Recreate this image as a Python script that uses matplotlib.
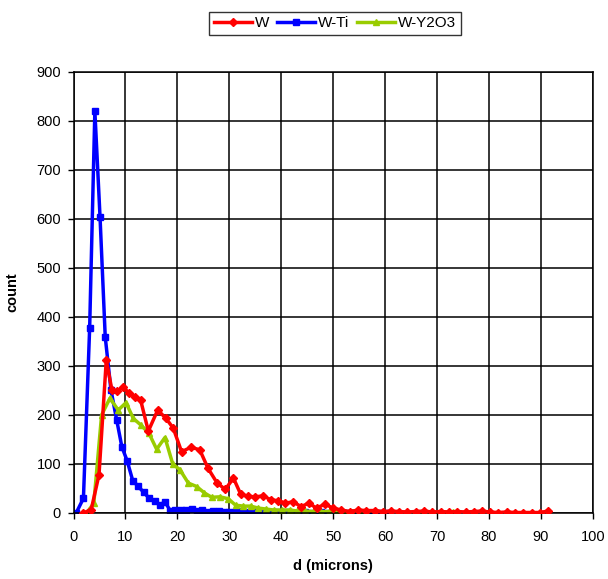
import matplotlib
matplotlib.use("Agg")
import matplotlib.pyplot as plt

plt.rcParams['font.family'] = ['Liberation Sans', 'DejaVu Sans']

# W-Ti (blue)
wti_x = [0.5, 1.9, 3.1, 4.1, 5.1, 6.1, 7.2, 8.3, 9.3, 10.3, 11.4, 12.4, 13.5, 14.5, 15.6, 16.6, 17.6, 18.6,
         19.6, 20.7, 21.7, 22.8, 23.8, 24.8, 25.9, 26.9, 28.0, 29.0, 30.0, 31.1, 32.1, 33.2, 34.2, 35.2,
         36.3, 37.3, 38.4, 39.4, 40.4, 41.5, 42.5, 43.6, 44.6, 45.6, 46.7, 47.7, 48.8, 49.8, 50.8, 51.9,
         52.9, 54.0, 55.0, 56.0, 57.1, 58.1, 59.2, 60.2]
wti_y = [0, 30, 378, 820, 603, 359, 251, 190, 135, 107, 66, 55, 42, 31, 24, 16, 23, 5,
         7, 6, 7, 8, 4, 6, 3, 4, 5, 3, 3, 2, 4, 3, 3, 2,
         2, 3, 2, 2, 2, 2, 1, 2, 2, 1, 1, 2, 1, 1, 1, 1,
         1, 1, 0, 1, 0, 0, 0, 0]

# W (red)
w_x = [1.9, 3.4, 4.9, 6.3, 7.4, 8.4, 9.6, 10.7, 11.8, 12.9, 14.4, 16.2, 17.8, 19.2, 20.8, 22.6, 24.3,
       25.9, 27.6, 29.2, 30.8, 32.2, 33.6, 35.0, 36.5, 38.0, 39.4, 40.8, 42.3, 43.8, 45.3, 46.8, 48.4,
       50.0, 51.6, 53.2, 54.8, 56.4, 58.0, 59.6, 61.1, 62.7, 64.3, 65.9, 67.5, 69.1, 70.7, 72.3, 73.9,
       75.5, 77.1, 78.6, 80.2, 81.8, 83.4, 85.0, 86.6, 88.2, 89.8, 91.4]
w_y = [0, 7, 78, 312, 250, 248, 257, 244, 237, 231, 167, 210, 193, 173, 125, 134, 129,
       91, 62, 48, 71, 38, 34, 33, 35, 27, 25, 20, 23, 13, 20, 10, 18,
       10, 6, 3, 6, 5, 5, 3, 4, 3, 2, 3, 4, 2, 3, 2, 3,
       2, 3, 4, 2, 1, 2, 1, 1, 1, 1, 4]

# W-Y2O3 (green)
wy_x = [2.5, 3.9, 5.4, 7.0, 8.6, 10.1, 11.5, 12.9, 14.5, 16.0, 17.6, 19.1, 20.5, 22.1, 23.7, 25.2, 26.6,
        28.2, 29.8, 31.2, 32.7, 34.1, 35.6, 37.1, 38.6, 40.1, 41.6, 43.1, 44.6, 46.1, 47.6, 49.1, 50.6,
        52.1, 53.6, 55.1, 56.6, 58.1, 59.6, 61.1, 62.6, 64.1, 65.6, 67.1, 68.6, 70.1, 71.6, 73.1]
wy_y = [0, 20, 200, 234, 210, 225, 193, 180, 163, 130, 154, 100, 88, 61, 54, 41, 32,
        33, 29, 16, 14, 14, 10, 8, 6, 6, 6, 4, 4, 3, 3, 3, 2,
        3, 2, 2, 1, 1, 1, 1, 1, 1, 1, 1, 0, 1, 1, 2]

x_ticks = [0, 10, 20, 30, 40, 50, 60, 70, 80, 90, 100]
y_ticks = [0, 100, 200, 300, 400, 500, 600, 700, 800, 900]

fig = plt.figure(figsize=(6.08, 5.79), dpi=100)
ax = fig.add_axes([0.121, 0.114, 0.854, 0.762])

ax.plot(w_x, w_y, color='#FF0000', lw=2.5, marker='D', ms=3.8, label='W', zorder=3)
ax.plot(wti_x, wti_y, color='#0000FF', lw=2.5, marker='s', ms=4.3, label='W-Ti', zorder=2)
ax.plot(wy_x, wy_y, color='#99CC00', lw=2.5, marker='^', ms=5, label='W-Y2O3', zorder=2.5)

ax.set_xlim(0, 100)
ax.set_ylim(0, 900)
ax.set_xticks(x_ticks)
ax.set_yticks(y_ticks)
ax.grid(True, color='black', lw=1.1)
ax.set_axisbelow(True)
for s in ax.spines.values():
    s.set_color('black')
    s.set_linewidth(1.1)
ax.tick_params(axis='both', labelsize=10.5, length=4, width=1, color='black', direction='out')
ax.tick_params(axis='x', pad=8)
ax.tick_params(axis='y', pad=5)

ax.set_xlabel('d (microns)', fontsize=10.5, fontweight='bold', labelpad=11)
ax.set_ylabel('count', fontsize=10.5, fontweight='bold', labelpad=12)

leg = fig.legend(loc='center', bbox_to_anchor=(0.551, 0.960), ncol=3, fontsize=11,
                 frameon=True, fancybox=False, edgecolor='black', handlelength=2.5,
                 handletextpad=0.2, columnspacing=0.5, borderpad=0.3)
leg.get_frame().set_linewidth(1.0)

fig.savefig('out.png', dpi=100)
